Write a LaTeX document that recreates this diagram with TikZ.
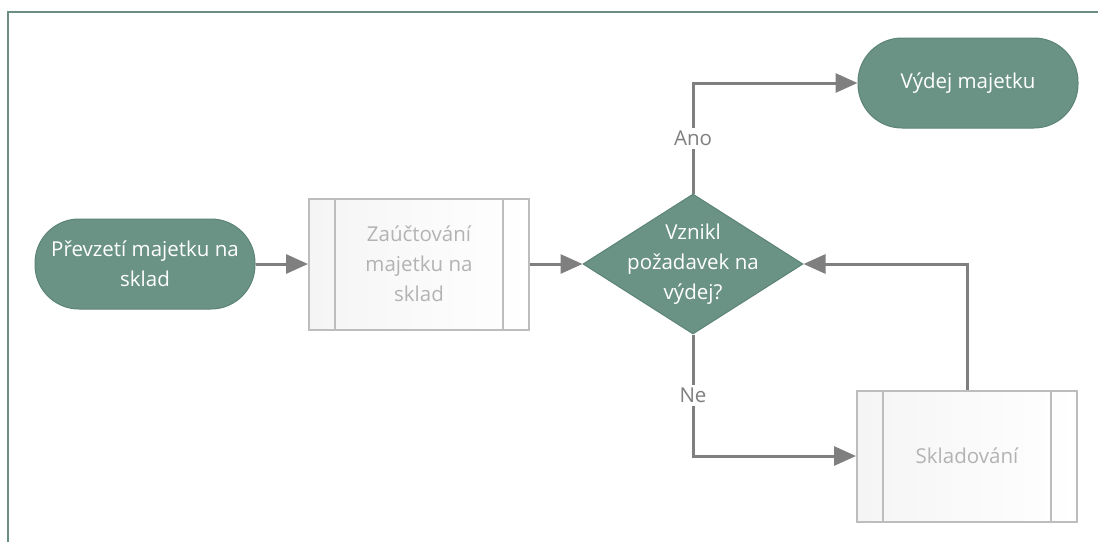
\documentclass[tikz,border=0pt]{standalone}
\usepackage{fontspec}
\setmainfont{Open Sans}
\usepackage{xcolor}
\usepackage{tikz}
\usetikzlibrary{positioning,shapes.geometric,arrows.meta}

\definecolor{sage}{HTML}{6A9386}
\definecolor{sageline}{HTML}{5C8377}
\definecolor{framecol}{HTML}{6B8E83}
\definecolor{flowgray}{HTML}{7F7F7F}
\definecolor{boxline}{HTML}{BDBDBD}
\definecolor{boxtext}{HTML}{B3B3B3}

\begin{document}
\begin{tikzpicture}[x=1pt, y=-1pt, font=\fontsize{20.5}{30}\selectfont]
            \tikzstyle{terminal} = [draw=sageline, line width=1pt, fill=sage, text=white, rounded corners=44pt, minimum width=220pt, minimum height=90pt, align=center, inner sep=0pt]
            \tikzstyle{process} = [draw=boxline, line width=2pt, left color=black!4, right color=white, text=boxtext, minimum width=220pt, minimum height=131pt, align=center, inner sep=0pt]
            \tikzstyle{decision} = [diamond, draw=sageline, line width=1pt, fill=sage, minimum width=220pt, minimum height=140pt, inner sep=0pt]
            \tikzstyle{flow} = [draw=flowgray, line width=3pt, -{Triangle[length=22pt, width=19pt]}]
            \tikzstyle{answer} = [fill=white, text=flowgray, inner sep=3pt]

            \useasboundingbox (0,0) rectangle (1098,542);
            \draw [framecol, line width=2.5pt] (8,542) -- (8,12) -- (1098,12);

            \node [terminal] (prevzeti) at (145,264) {Převzetí majetku na\\sklad};
            \node [process] (zauct) at (419,264) {Zaúčtování\\majetku na\\sklad};
            \node [decision, label={[text=white, align=center]center:Vznikl\\požadavek na\\výdej?}] (vznikl) at (693,264) {};
            \node [terminal] (vydej) at (968,83) {Výdej majetku};
            \node [process] (sklad) at (967,456) {Skladování};

            \draw [boxline, line width=2pt] ([xshift=27pt]zauct.north west) -- ([xshift=27pt]zauct.south west);
            \draw [boxline, line width=2pt] ([xshift=-27pt]zauct.north east) -- ([xshift=-27pt]zauct.south east);
            \draw [boxline, line width=2pt] ([xshift=27pt]sklad.north west) -- ([xshift=27pt]sklad.south west);
            \draw [boxline, line width=2pt] ([xshift=-27pt]sklad.north east) -- ([xshift=-27pt]sklad.south east);

            \draw [flow] (prevzeti) -- (zauct);
            \draw [flow] (zauct) -- (vznikl);
            \draw [flow] (vznikl.north) |- (vydej.west) node [answer, pos=0.25] {Ano};
            \draw [flow] (vznikl.south) |- (sklad.west) node [answer, pos=0.25] {Ne};
            \draw [flow] (sklad.north) |- (vznikl.east);
        \end{tikzpicture}
\end{document}
